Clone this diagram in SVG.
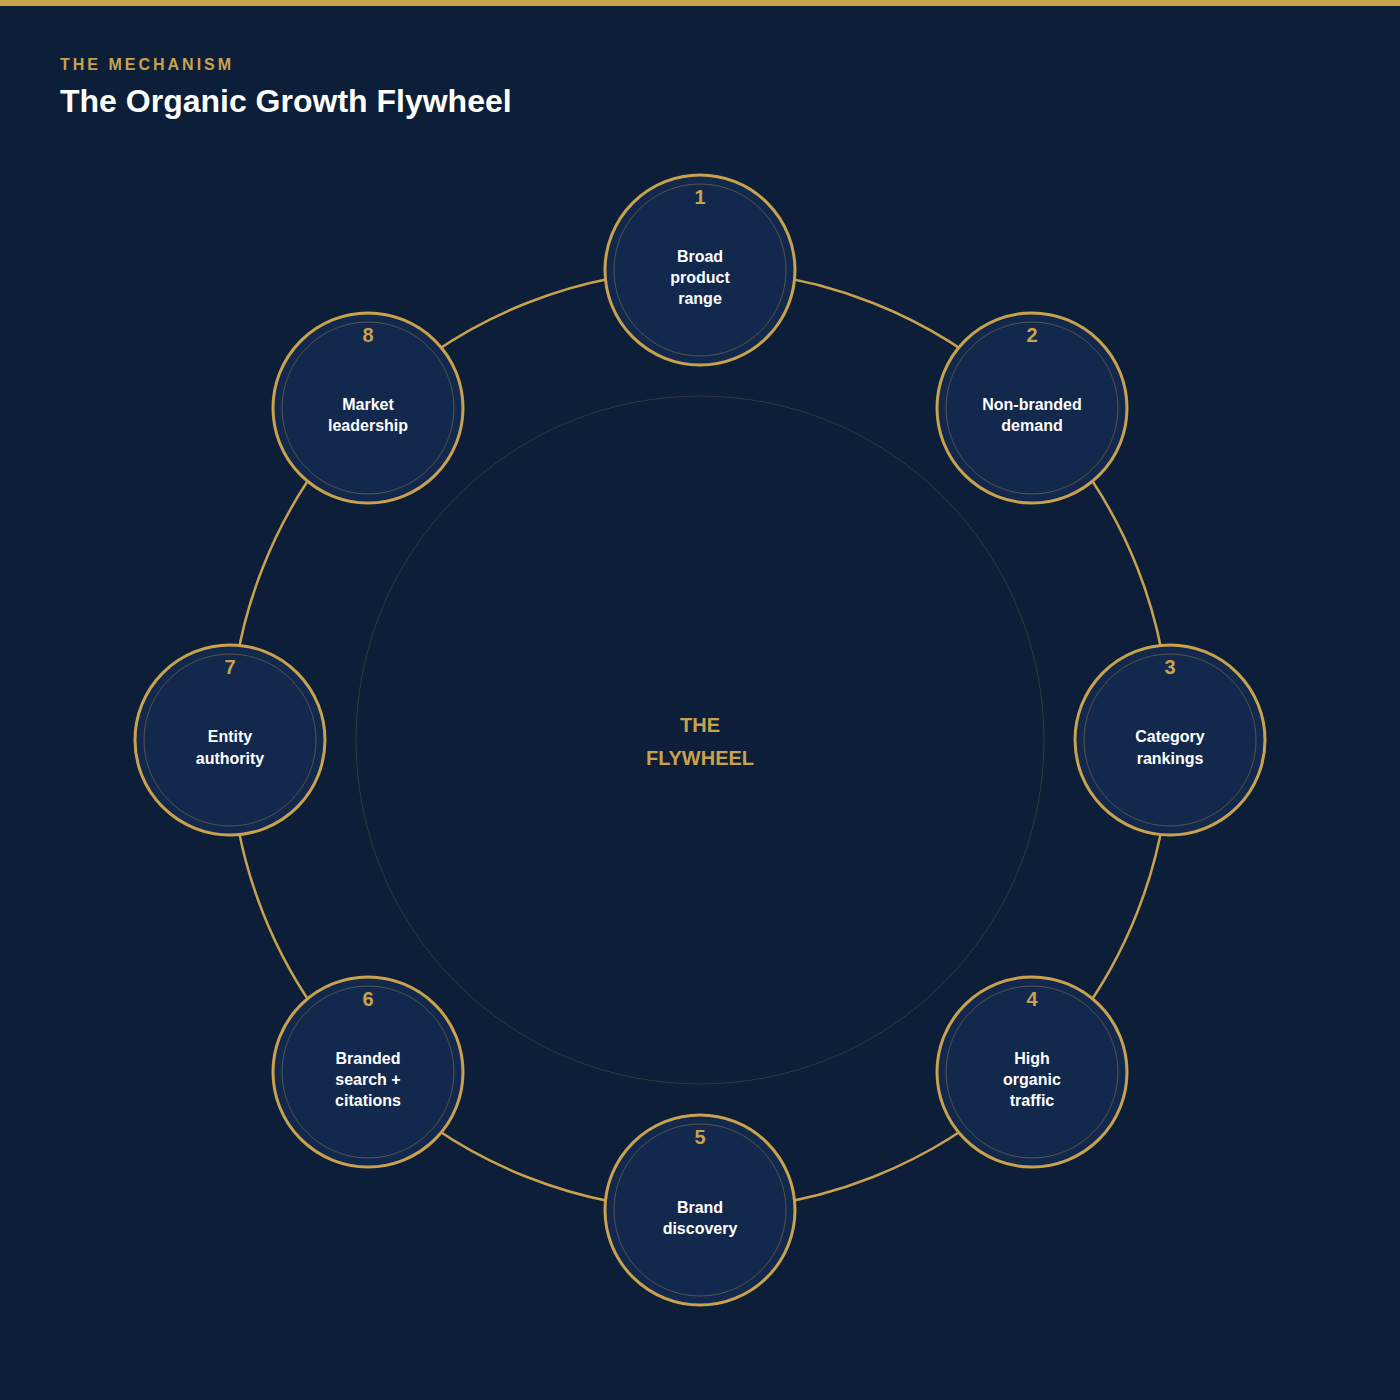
<svg xmlns="http://www.w3.org/2000/svg" width="1400" height="1400" viewBox="0 0 1400 1400">
<style>
.o{fill:#13284d;stroke:#c9a24e;stroke-width:3}
.i{fill:none;stroke:#c9a24e;stroke-opacity:0.35;stroke-width:1}
.n{font-family:"Liberation Sans",Arial,sans-serif;font-weight:bold;font-size:20px;fill:#c9a24e;text-anchor:middle}
.t{font-family:"Liberation Sans",Arial,sans-serif;font-weight:bold;font-size:16px;fill:#ffffff;text-anchor:middle}
</style>
<rect width="1400" height="1400" fill="#0c1e38"/>
<rect width="1400" height="6" fill="#c9a24e"/>
<text x="60" y="70" font-family="Liberation Sans,Arial,sans-serif" font-weight="bold" font-size="16" letter-spacing="3" fill="#c9a24e">THE MECHANISM</text>
<text x="60" y="112" font-family="Liberation Sans,Arial,sans-serif" font-weight="bold" font-size="32" fill="#ffffff">The Organic Growth Flywheel</text>
<circle cx="700" cy="740" r="344" fill="none" stroke="#c9a24e" stroke-opacity="0.2" stroke-width="1"/>
<g id="connectors"><circle cx="700" cy="740" r="470" fill="none" stroke="#c9a24e" stroke-width="2.5"/></g>
<text x="700" y="732" class="n" font-size="26">THE</text>
<text x="700" y="765" class="n" font-size="26">FLYWHEEL</text>
<g id="n1"><circle cx="700" cy="270" r="95" class="o"/><circle cx="700" cy="270" r="86" class="i"/><text x="700" y="204" class="n">1</text><text x="700" y="262" class="t">Broad</text><text x="700" y="283" class="t">product</text><text x="700" y="304" class="t">range</text></g>
<g id="n2"><circle cx="1032" cy="408" r="95" class="o"/><circle cx="1032" cy="408" r="86" class="i"/><text x="1032" y="342" class="n">2</text><text x="1032" y="410" class="t">Non-branded</text><text x="1032" y="431" class="t">demand</text></g>
<g id="n3"><circle cx="1170" cy="740" r="95" class="o"/><circle cx="1170" cy="740" r="86" class="i"/><text x="1170" y="674" class="n">3</text><text x="1170" y="742" class="t">Category</text><text x="1170" y="764" class="t">rankings</text></g>
<g id="n4"><circle cx="1032" cy="1072" r="95" class="o"/><circle cx="1032" cy="1072" r="86" class="i"/><text x="1032" y="1006" class="n">4</text><text x="1032" y="1064" class="t">High</text><text x="1032" y="1085" class="t">organic</text><text x="1032" y="1106" class="t">traffic</text></g>
<g id="n5"><circle cx="700" cy="1210" r="95" class="o"/><circle cx="700" cy="1210" r="86" class="i"/><text x="700" y="1144" class="n">5</text><text x="700" y="1213" class="t">Brand</text><text x="700" y="1234" class="t">discovery</text></g>
<g id="n6"><circle cx="368" cy="1072" r="95" class="o"/><circle cx="368" cy="1072" r="86" class="i"/><text x="368" y="1006" class="n">6</text><text x="368" y="1064" class="t">Branded</text><text x="368" y="1085" class="t">search +</text><text x="368" y="1106" class="t">citations</text></g>
<g id="n7"><circle cx="230" cy="740" r="95" class="o"/><circle cx="230" cy="740" r="86" class="i"/><text x="230" y="674" class="n">7</text><text x="230" y="742" class="t">Entity</text><text x="230" y="764" class="t">authority</text></g>
<g id="n8"><circle cx="368" cy="408" r="95" class="o"/><circle cx="368" cy="408" r="86" class="i"/><text x="368" y="342" class="n">8</text><text x="368" y="410" class="t">Market</text><text x="368" y="431" class="t">leadership</text></g>
</svg>
